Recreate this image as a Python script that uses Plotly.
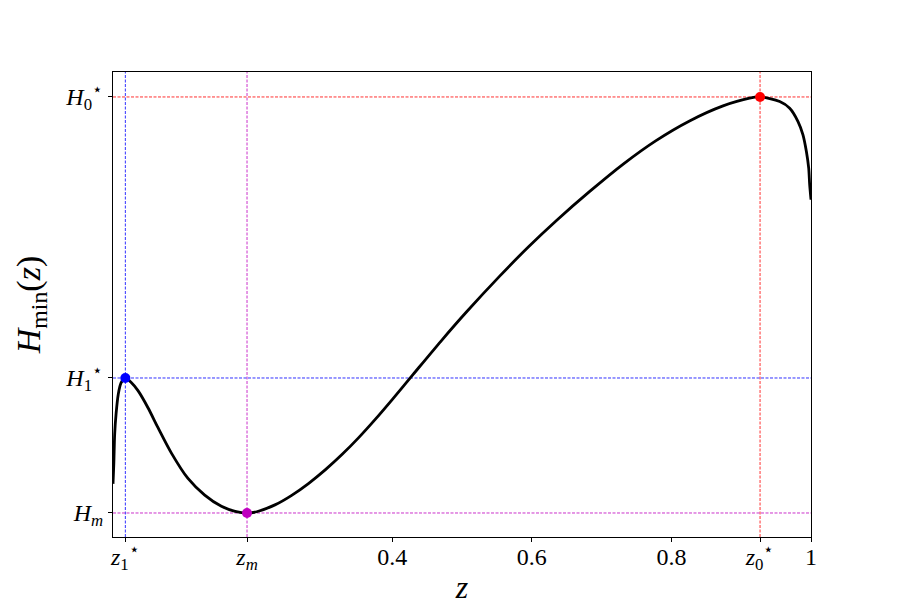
import plotly.graph_objects as go

# curve samples (z, H normalised so that H_m = 0, H0* = 1)
z_vals = [0.0, 0.0012, 0.0024, 0.0045, 0.0075, 0.0115, 0.0177, 0.0258, 0.0358, 0.0501,
          0.0645, 0.0837, 0.1074, 0.1314, 0.1553, 0.175, 0.192, 0.206, 0.232, 0.256,
          0.28, 0.304, 0.328, 0.352, 0.376, 0.40, 0.43, 0.47, 0.506, 0.554,
          0.595, 0.635, 0.683, 0.731, 0.778, 0.826, 0.874, 0.912, 0.9265, 0.9552,
          0.9695, 0.9814, 0.9885, 0.9934, 0.9967, 0.9981, 1.0]
h_vals = [0.07, 0.12, 0.19, 0.24, 0.285, 0.3125, 0.3245, 0.314, 0.294, 0.253,
          0.205, 0.144, 0.083, 0.043, 0.016, 0.004, 0.0, 0.003, 0.0195, 0.0425,
          0.0708, 0.1036, 0.1404, 0.1812, 0.2256, 0.2726, 0.3331, 0.4133, 0.4824, 0.5693,
          0.6394, 0.7026, 0.7729, 0.8387, 0.8951, 0.9424, 0.9786, 0.9972, 1.0, 0.989,
          0.973, 0.941, 0.909, 0.869, 0.829, 0.789, 0.753]

# special points
z1_star, H1_star = 0.0177, 0.3245
z_m, H_m = 0.192, 0.0
z0_star, H0_star = 0.927, 1.0

x_tickvals = [z1_star, z_m, 0.4, 0.6, 0.8, z0_star, 1.0]
x_ticktext = ["<i>z</i><sub>1</sub><sup>⋆</sup>", "<i>z</i><sub><i>m</i></sub>", "0.4", "0.6",
              "0.8", "<i>z</i><sub>0</sub><sup>⋆</sup>", "1"]
y_tickvals = [H_m, H1_star, H0_star]
y_ticktext = ["<i>H</i><sub><i>m</i></sub>", "<i>H</i><sub>1</sub><sup>⋆</sup>",
              "<i>H</i><sub>0</sub><sup>⋆</sup>"]

FONT = "Liberation Serif"
RED = "rgba(255,0,0,0.9)"
BLUE = "rgba(0,0,255,0.9)"
MAG = "rgba(191,0,191,0.9)"

fig = go.Figure()

# guide lines
for zv, col in [(z1_star, BLUE), (z_m, MAG), (z0_star, RED)]:
    fig.add_vline(x=zv, line=dict(color=col, width=0.9, dash="3px,1.5px"), layer="below")
for hv, col in [(H0_star, RED), (H1_star, BLUE), (H_m, MAG)]:
    fig.add_hline(y=hv, line=dict(color=col, width=0.9, dash="3px,1.5px"), layer="below")

fig.add_trace(go.Scatter(x=z_vals, y=h_vals, mode="lines",
                         line=dict(color="black", width=2.8, shape="spline", smoothing=0.8),
                         showlegend=False, hoverinfo="skip"))

for zv, hv, col in [(z1_star, H1_star, "#0000ff"), (z_m, H_m, "#bf00bf"), (z0_star, H0_star, "#ff0000")]:
    fig.add_trace(go.Scatter(x=[zv], y=[hv], mode="markers",
                             marker=dict(color=col, size=10), showlegend=False))

fig.update_layout(
    width=901, height=604,
    margin=dict(l=105, r=98, t=64, b=75),
    plot_bgcolor="white", paper_bgcolor="white",
    font=dict(family=FONT, color="black", size=24),
)
fig.update_xaxes(range=[0, 1], tickvals=x_tickvals, ticktext=x_ticktext,
                 showgrid=False, zeroline=False, showline=True, linecolor="black",
                 linewidth=1.2, mirror=True, ticks="outside", ticklen=4, tickcolor="black",
                 tickfont=dict(size=24, family=FONT), automargin=False, ticklabelstandoff=-6,
                 title=dict(text="<i>z</i>", font=dict(size=32, family=FONT), standoff=2))
fig.update_yaxes(range=[-0.0577, 1.060], tickvals=y_tickvals, ticktext=y_ticktext,
                 showgrid=False, zeroline=False, showline=True, linecolor="black",
                 linewidth=1.2, mirror=True, ticks="outside", ticklen=4, tickcolor="black",
                 tickfont=dict(size=24, family=FONT), automargin=False,
                 title=dict(text="<i>H</i><sub>min</sub>(<i>z</i>)", font=dict(size=34, family=FONT),
                            standoff=14))

fig.write_html("out.html")
